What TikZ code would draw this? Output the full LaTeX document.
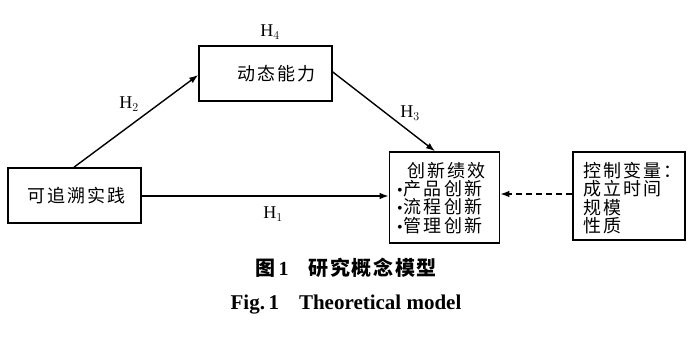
\documentclass[tikz,border=0pt]{standalone}
\usepackage{fontspec}
\setmainfont{Liberation Serif}
\newfontfamily\cjk[LetterSpace=12]{Noto Sans CJK SC}
\newfontfamily\cjkcap[LetterSpace=8]{Noto Sans CJK SC}
\usetikzlibrary{arrows.meta}
\newcommand{\bul}{{\rmfamily\fontsize{16}{16}\selectfont •}\hspace{1pt}}
\tikzset{
  box/.style={draw,line width=1.6pt,inner sep=0pt,font=\cjk\fontsize{18}{18}\selectfont},
  conn/.style={line width=1.4pt,-{Latex[length=9pt,width=6.5pt]}},
  hlab/.style={font=\fontsize{18}{18}\selectfont,inner sep=0pt},
  ltext/.style={font=\cjk\fontsize{18}{18.3}\selectfont,align=left,anchor=north west,inner sep=0pt},
}
\begin{document}
\begin{tikzpicture}[x=1pt,y=-1pt]
\useasboundingbox (0,0) rectangle (700,348);
\node[box,minimum width=133pt,minimum height=55pt] (trace) at (74.5,195.5) {\hspace*{4pt}可追溯实践};
\node[box,minimum width=133pt,minimum height=55pt] (dyn) at (265.5,73.5) {\hspace*{22pt}动态能力};
\node[box,minimum width=110pt,minimum height=91pt] (inno) at (444.5,197.5) {};
\node[box,minimum width=112pt,minimum height=88pt] (ctrl) at (629,196) {};
\node[ltext] (innotext) at (397,162)
  {\hspace*{10pt}创新绩效\\\bul 产品创新\\\bul 流程创新\\\bul 管理创新};
\node[ltext] (ctrltext) at (583,162)
  {控制变量：\\成立时间\\规模\\性质};
\draw[conn] (trace.east |- 0,196) -- (inno.west |- 0,196);
\draw[conn] (trace.north -| 74,0) -- (dyn.west |- 0,75);
\draw[conn] (dyn.east |- 0,72) -- (inno.north -| 435,0);
\draw[conn,dash pattern=on 6pt off 4pt] (ctrl.west |- 0,194) -- (inno.east |- 0,194);
\node[hlab] (h1) at (273,214) {H$_1$};
\node[hlab] (h2) at (129,104) {H$_2$};
\node[hlab] (h3) at (410,113) {H$_3$};
\node[hlab] (h4) at (270,32) {H$_4$};
\node[font=\cjkcap\bfseries\fontsize{20}{20}\selectfont,inner sep=0pt] (cap1) at (346,268) {图\,\textrm{\textbf{1}}\hspace{20pt}研究概念模型};
\node[font=\bfseries\fontsize{21}{21}\selectfont,inner sep=0pt] (cap2) at (346,305) {Fig.\,1\hspace{20pt}Theoretical model};
\end{tikzpicture}
\end{document}
